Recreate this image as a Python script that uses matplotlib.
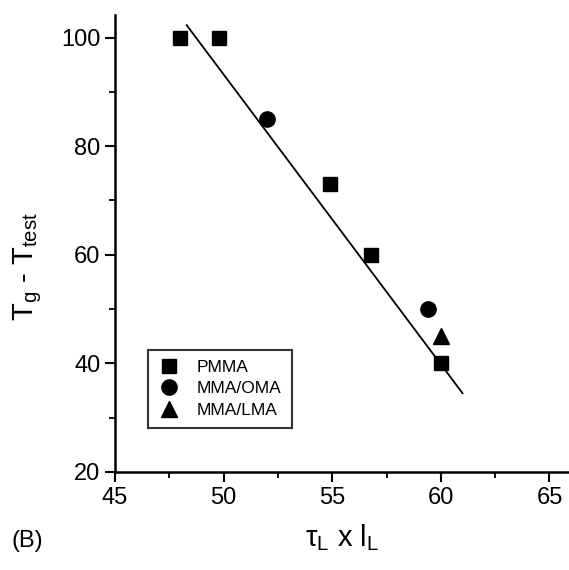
import numpy as np
import matplotlib.pyplot as plt
from matplotlib.ticker import MultipleLocator

plt.rcParams['font.family'] = ['Liberation Sans', 'DejaVu Sans']

# data
pmma_x = [48.0, 49.8, 54.9, 56.8, 60.0]
pmma_y = [100, 100, 73, 60, 40]
oma_x = [52.0, 59.4]
oma_y = [85, 50]
lma_x = [60.0]
lma_y = [45]
fit_x = [48.3, 61.0]
fit_y = [102.3, 34.5]

fig = plt.figure(figsize=(5.69, 5.70), dpi=100)
ax = fig.add_axes([0.202, 0.172, 0.798, 0.802])

ax.plot(fit_x, fit_y, color='black', lw=1.3)
ax.plot(pmma_x, pmma_y, 's', color='black', ms=10, label='PMMA')
ax.plot(oma_x, oma_y, 'o', color='black', ms=11, label='MMA/OMA')
ax.plot(lma_x, lma_y, '^', color='black', ms=11, label='MMA/LMA')

ax.set_xlim(45, 65.9)
ax.set_ylim(20, 104.2)
ax.xaxis.set_major_locator(MultipleLocator(5))
ax.xaxis.set_minor_locator(MultipleLocator(2.5))
ax.yaxis.set_major_locator(MultipleLocator(20))
ax.yaxis.set_minor_locator(MultipleLocator(10))

ax.spines['top'].set_visible(False)
ax.spines['right'].set_visible(False)
ax.spines['left'].set_linewidth(1.8)
ax.spines['bottom'].set_linewidth(1.8)
ax.tick_params(which='major', direction='out', length=7, width=1.5, labelsize=17)
ax.tick_params(which='minor', direction='out', length=4, width=1.3)

ax.set_xlabel(r'$\mathregular{\tau_L}$ x $\mathregular{l_L}$', fontsize=21, labelpad=10)
ax.set_ylabel(r'T$\mathregular{_g}$ - T$\mathregular{_{test}}$', fontsize=21)
ax.yaxis.set_label_coords(-0.157, 0.45)

leg = ax.legend(loc='lower left', bbox_to_anchor=(0.073, 0.096), borderaxespad=0,
                fontsize=12.5, frameon=True, fancybox=False, edgecolor='black',
                handlelength=1.2, handletextpad=1.0, borderpad=0.6, labelspacing=0.35)
leg.get_frame().set_linewidth(1.5)

fig.text(0.02, 0.04, '(B)', fontsize=17)

fig.savefig('out.png', dpi=100)
